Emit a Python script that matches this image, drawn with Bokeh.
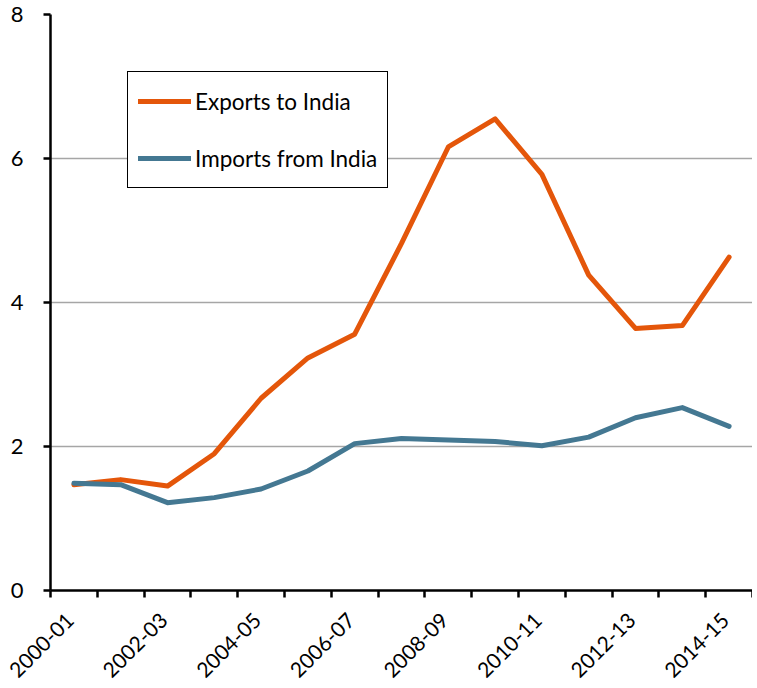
from bokeh.plotting import figure
from bokeh.models import Range1d, FixedTicker, Legend, LegendItem
from bokeh.embed import file_html
from bokeh.resources import INLINE

years = ["2000-01", "2001-02", "2002-03", "2003-04", "2004-05", "2005-06", "2006-07",
         "2007-08", "2008-09", "2009-10", "2010-11", "2011-12", "2012-13", "2013-14", "2014-15"]
exports_to_india = [1.47, 1.54, 1.45, 1.90, 2.67, 3.23, 3.56, 4.82, 6.16, 6.55, 5.78, 4.38, 3.64, 3.68, 4.63]
imports_from_india = [1.49, 1.47, 1.22, 1.29, 1.41, 1.66, 2.04, 2.11, 2.09, 2.07, 2.01, 2.13, 2.40, 2.54, 2.28]
y_ticks = [0, 2, 4, 6, 8]

FONT = "Lato"
ORANGE = "#E4560A"
BLUE = "#447892"

idx = list(range(len(years)))
p = figure(width=752, height=688, output_backend="svg", toolbar_location=None,
           x_range=Range1d(-0.5, len(years) - 0.5), y_range=Range1d(0, 8),
           min_border_left=50, min_border_right=0, min_border_top=14, min_border_bottom=98)
p.outline_line_color = None
p.background_fill_color = "white"

l1 = p.line(idx, exports_to_india, line_color=ORANGE, line_width=5, line_join="round", line_cap="round")
l2 = p.line(idx, imports_from_india, line_color=BLUE, line_width=5, line_join="round", line_cap="round")

# x axis: labels every other category (anchored slightly left of centre, as in the
# original), tick marks at category boundaries
label_idx = idx[::2]
label_pos = [i - 0.08 for i in label_idx]
p.xaxis.ticker = FixedTicker(ticks=label_pos, minor_ticks=[i - 0.5 for i in range(len(years) + 1)])
p.xaxis.major_label_overrides = {pos: years[i] for pos, i in zip(label_pos, label_idx)}
p.xaxis.major_label_orientation = 0.785398
p.xaxis.major_tick_out = 0
p.xaxis.major_tick_in = 0
p.xaxis.minor_tick_out = 7
p.xaxis.minor_tick_in = 0
p.xaxis.minor_tick_line_color = "black"
p.xaxis.minor_tick_line_width = 2.5
p.xaxis.axis_line_color = "black"
p.xaxis.axis_line_width = 2.5
p.xaxis.major_label_text_font = FONT
p.xaxis.major_label_text_font_size = "21px"
p.xaxis.major_label_text_color = "black"
p.xaxis.major_label_standoff = 19

p.yaxis.ticker = FixedTicker(ticks=y_ticks)
p.yaxis.minor_tick_line_color = None
p.yaxis.major_tick_out = 7
p.yaxis.major_tick_in = 0
p.yaxis.major_tick_line_width = 2.5
p.yaxis.axis_line_width = 2.5
p.yaxis.axis_line_color = "black"
p.yaxis.major_label_text_font = FONT
p.yaxis.major_label_text_font_size = "22px"
p.yaxis.major_label_text_color = "black"
p.yaxis.major_label_standoff = 20

p.xgrid.grid_line_color = None
p.ygrid.grid_line_color = "#A6A6A6"
p.ygrid.grid_line_width = 1.3

legend = Legend(items=[LegendItem(label="Exports to India", renderers=[l1]),
                       LegendItem(label="Imports from India", renderers=[l2])],
                location=(77, 402), orientation="vertical",
                border_line_color="black", border_line_width=1.5, border_line_alpha=1,
                background_fill_color="white", background_fill_alpha=1,
                label_text_font=FONT, label_text_font_size="22.5px", label_text_color="black",
                glyph_width=53, glyph_height=20, label_height=38, label_standoff=4,
                spacing=19, padding=10, margin=0)
p.add_layout(legend, "center")

open("out.html", "w").write(file_html(p, INLINE))
